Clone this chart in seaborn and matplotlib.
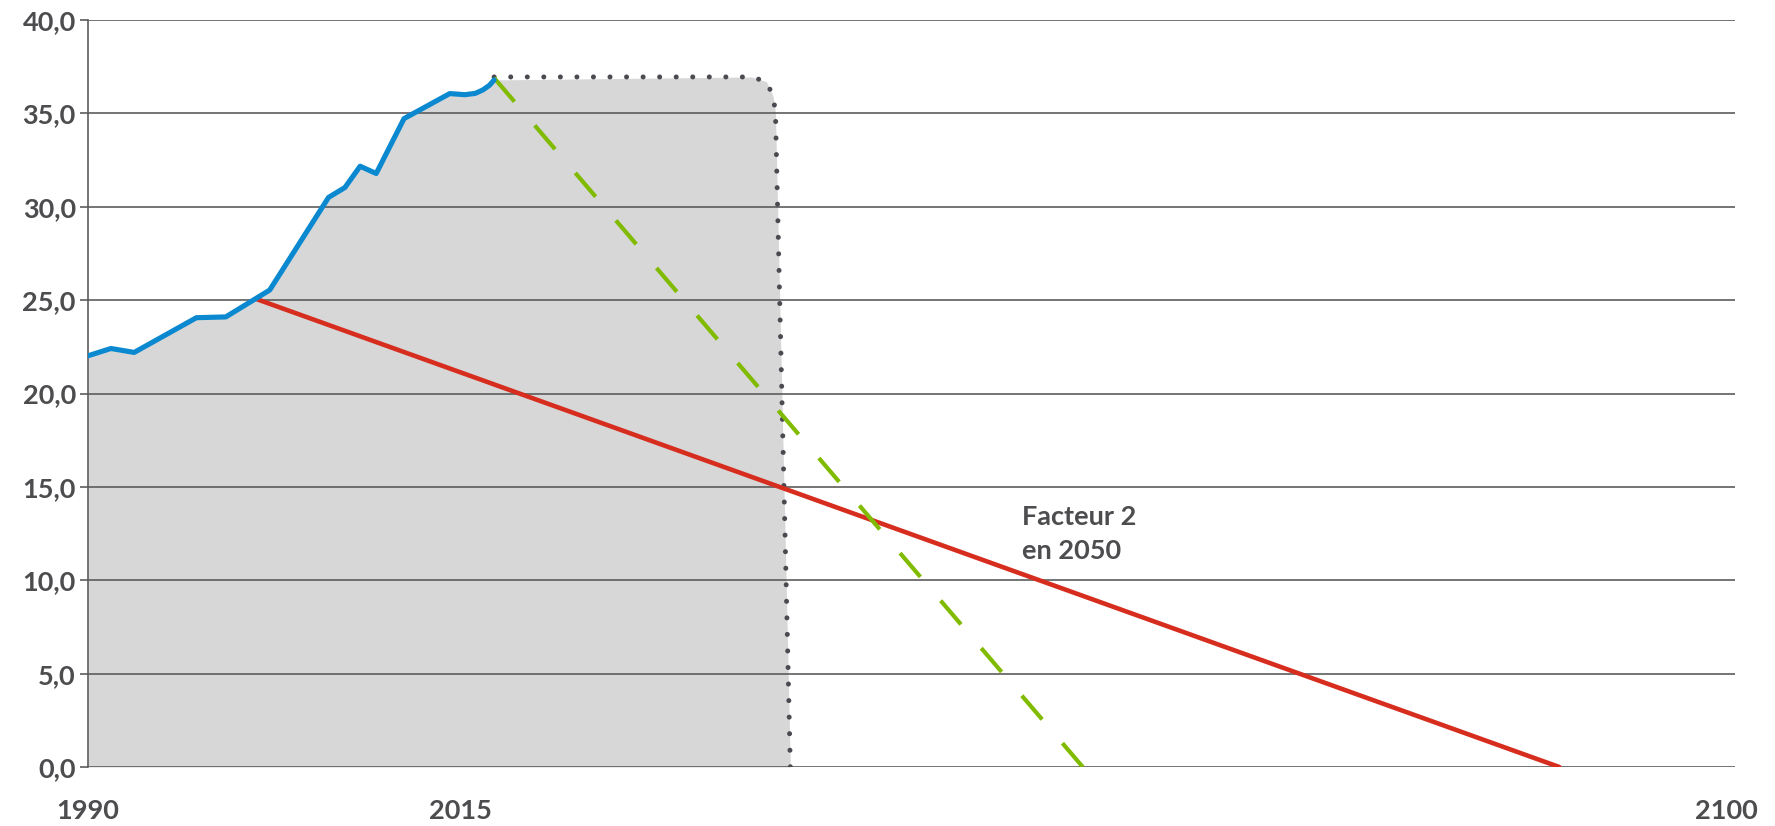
import matplotlib
matplotlib.use("Agg")
import matplotlib.pyplot as plt
import seaborn as sns

# émissions observées (Gt CO2)
years_obs = [1990, 1991.54, 1993.1, 1997.28, 1999.25, 2002.2, 2006.15, 2007.25,
             2008.27, 2009.35, 2011.22, 2014.29, 2015.3, 2016.0, 2016.5, 2016.95, 2017.27]
emis_obs = [22.02, 22.41, 22.2, 24.06, 24.1, 25.54, 30.5, 31.03,
            32.17, 31.78, 34.72, 36.06, 36.0, 36.07, 36.25, 36.5, 36.79]

# budget (plateau puis chute) - contour pointillé
years_budget = [2017.27, 2034.55, 2035.55, 2036.0, 2036.16, 2037.16]
emis_budget = [36.95, 36.95, 36.7, 35.93, 35.07, 0.0]

# trajectoire "facteur 2"
years_f2 = [2001.37, 2088.8]
emis_f2 = [25.04, 0.0]

# trajectoire linéaire depuis aujourd'hui
years_lin = [2017.27, 2056.8]
emis_lin = [36.9, 0.0]

yticks = [0, 5, 10, 15, 20, 25, 30, 35, 40]
ytick_labels = ["0,0", "5,0", "10,0", "15,0", "20,0", "25,0", "30,0", "35,0", "40,0"]
xticks = [1990, 2015, 2100]
xtick_labels = ["1990", "2015", "2100"]

TXT = "#4d4d50"
GRID = "#5c5c5c"

sns.set_theme(style="white")
plt.rcParams["font.family"] = ["Lato", "DejaVu Sans"]

fig, ax = plt.subplots(figsize=(17.75, 8.26), dpi=100)
fig.subplots_adjust(left=0.0496, right=0.9775, top=0.9758, bottom=0.0714)

# zone grise sous la courbe observée + budget
ax.fill_between(years_obs + years_budget[1:], emis_obs + emis_budget[1:],
                color="#d7d7d7", lw=0, zorder=0.3)

sns.lineplot(x=years_budget, y=emis_budget, ax=ax, color="#4a4a50", lw=3.6,
             linestyle=(0, (0.01, 3.3)), dash_capstyle="round",
             estimator=None, sort=False, zorder=3)
sns.lineplot(x=years_f2, y=emis_f2, ax=ax, color="#d62d1f", lw=3.3,
             estimator=None, sort=False, zorder=4)
sns.lineplot(x=years_lin, y=emis_lin, ax=ax, color="#80bb00", lw=3.0,
             linestyle=(0, (7.5, 7.5)), estimator=None, sort=False, zorder=4)
sns.lineplot(x=years_obs, y=emis_obs, ax=ax, color="#0a88d0", lw=3.7,
             estimator=None, sort=False, zorder=5)

ax.text(2052.7, 12.5, "Facteur 2\nen 2050", fontsize=19.5, fontweight="bold",
        color=TXT, va="center", ha="left", linespacing=1.5)

ax.set_xlim(1990, 2100.6)
ax.set_ylim(0, 40)
ax.set_yticks(yticks)
ax.set_yticklabels(ytick_labels)
ax.set_xticks(xticks)
ax.set_xticklabels(xtick_labels)
ax.set_xlabel("")
ax.set_ylabel("")

ax.set_axisbelow(True)
ax.yaxis.grid(True, color=GRID, lw=1.2)
ax.xaxis.grid(False)
for s in ["top", "right", "bottom"]:
    ax.spines[s].set_visible(False)
ax.spines["left"].set_color(GRID)
ax.spines["left"].set_linewidth(1.2)

ax.tick_params(axis="y", left=True, length=5.8, width=1.2, color=GRID, pad=3,
               labelsize=19.5, labelcolor=TXT)
ax.tick_params(axis="x", bottom=False, length=0, pad=23, labelsize=19.5, labelcolor=TXT)
for lab in ax.get_xticklabels() + ax.get_yticklabels():
    lab.set_fontweight("bold")

plt.savefig("out.png", dpi=100)
